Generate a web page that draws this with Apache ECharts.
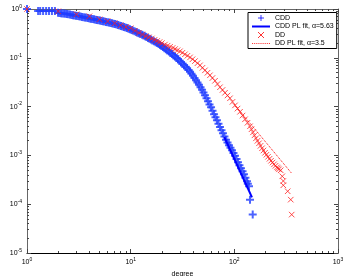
<!DOCTYPE html>
<html><head><meta charset="utf-8">
<script src="https://cdn.jsdelivr.net/npm/echarts@6/dist/echarts.min.js"></script>
<style>html,body{margin:0;padding:0;background:#fff}#c{width:346px;height:276px}</style>
</head><body><div id="c"></div>
<script>
// CDD (blue +) : degree / P(X>degree)
const cddDegree = [1, 1.28, 1.34, 1.43, 1.53, 1.63, 1.74, 1.86,
  1.99, 2.06, 2.13, 2.20, 2.28, 2.35, 2.43, 2.51, 2.60, 2.69, 2.78, 2.87, 2.97, 3.07, 3.18, 3.28, 3.39, 3.51,
  3.63, 3.75, 3.88, 4.01, 4.14, 4.28, 4.43, 4.58, 4.73, 4.89, 5.06, 5.23, 5.41, 5.59, 5.78, 5.98, 6.18, 6.39,
  6.61, 6.83, 7.06, 7.30, 7.55, 7.80, 8.07, 8.34, 8.62, 8.91, 9.22, 9.53, 9.85, 10.2, 10.5, 10.9, 11.3, 11.6,
  12.0, 12.4, 12.9, 13.3, 13.8, 14.2, 14.7, 15.2, 15.7, 16.2, 16.8, 17.4, 18.0, 18.6, 19.2, 19.8, 20.5, 21.2,
  21.9, 22.6, 23.4, 24.2, 25.1, 25.9, 26.8, 27.7, 28.6, 29.6, 30.6, 31.6, 32.7, 33.8, 35.0, 36.2, 37.4, 38.6,
  39.9, 41.3, 42.7, 44.1, 45.6, 47.2, 48.8, 50.4, 52.1, 53.9, 55.7, 57.6, 59.6, 61.6, 63.7, 65.8, 68.0, 70.3,
  72.7, 75.2, 77.7, 80.3, 83.1, 85.9, 88.8, 91.8, 94.9, 98.1, 101.5, 105, 108.5, 112, 115.9, 120, 123.9, 128,
  132.5, 135, 138.5, 141.6, 150.4];
const cddProb = [1, 0.91, 0.905, 0.915, 0.91, 0.905, 0.91, 0.905,
  0.836, 0.826, 0.816, 0.810, 0.805, 0.795, 0.786, 0.777, 0.768, 0.755, 0.743, 0.734, 0.726, 0.717, 0.709, 0.699, 0.689, 0.679,
  0.669, 0.660, 0.651, 0.642, 0.633, 0.624, 0.615, 0.605, 0.595, 0.586, 0.578, 0.569, 0.560, 0.552, 0.544, 0.535, 0.526, 0.517,
  0.509, 0.499, 0.490, 0.480, 0.470, 0.459, 0.448, 0.438, 0.428, 0.417, 0.406, 0.395, 0.384, 0.372, 0.361, 0.350, 0.339, 0.328,
  0.318, 0.307, 0.296, 0.286, 0.276, 0.266, 0.256, 0.246, 0.236, 0.227, 0.218, 0.209, 0.200, 0.191, 0.182, 0.174, 0.166, 0.157,
  0.149, 0.141, 0.134, 0.126, 0.119, 0.112, 0.106, 0.0994, 0.0932, 0.0868, 0.0809, 0.0754, 0.0702, 0.0654, 0.0609, 0.0561, 0.0516, 0.0470,
  0.0428, 0.0385, 0.0346, 0.0311, 0.0280, 0.0249, 0.0221, 0.0194, 0.0170, 0.0148, 0.0128, 0.0111, 0.00968, 0.00823, 0.00699, 0.00605, 0.00524, 0.00447,
  0.00382, 0.00329, 0.00284, 0.00244, 0.00209, 0.00183, 0.00161, 0.00143, 0.00127, 0.00112, 0.000981, 0.000842, 0.000722, 0.000627, 0.000544, 0.000472, 0.000410, 0.000348,
  0.000295, 0.000262, 0.000233, 0.000124, 0.0000612];
// DD (red x)
const ddDegree = [1, 2, 3, 4, 5, 6, 7, 8, 9, 10, 11, 12, 13, 14, 15, 16, 17, 18, 19, 20,
  21.4, 22.7, 24.0, 25.4, 26.8, 28.3, 29.9, 31.6, 33.4, 35.3, 37.4, 39.5, 41.7, 44.1, 46.7, 49.3, 52.1, 55.1,
  58.2, 61.5, 65.1, 68.8, 72.7, 76.9, 81.3, 85.9, 90.8, 96.0, 101.5, 107.3, 113.4, 119.9, 126.7, 134,
  141.6, 146.4, 151.4, 156.5, 161.8, 167.3, 173, 179, 185, 191, 197.7, 204, 211.3, 218.5, 225.9, 233.5,
  241.5, 249.5, 258, 263.7, 269.6, 280, 290, 296.7, 296.7, 327, 350, 357.5];
const ddProb = [1, 0.897, 0.779, 0.709, 0.615, 0.560, 0.509, 0.463, 0.428, 0.402, 0.358, 0.325, 0.300, 0.278, 0.263, 0.249, 0.233, 0.221, 0.210, 0.200,
  0.1865, 0.177, 0.168, 0.159, 0.151, 0.143, 0.136, 0.127, 0.118, 0.110, 0.102, 0.0934, 0.0856, 0.0775, 0.0702, 0.0624, 0.0554, 0.0493,
  0.0438, 0.0385, 0.0338, 0.0290, 0.0249, 0.0219, 0.0192, 0.0169, 0.0148, 0.0125, 0.0106, 0.00910, 0.00782, 0.00655, 0.00549, 0.00466,
  0.00395, 0.00343, 0.00297, 0.00258, 0.00224, 0.00199, 0.00177, 0.00157, 0.00140, 0.00126, 0.00113, 0.00103, 0.000936, 0.000852, 0.000775, 0.000714,
  0.000657, 0.000612, 0.000570, 0.000544, 0.000519, 0.000495, 0.000373, 0.000299, 0.000244, 0.000184, 0.000124, 0.0000612];
// power-law fits (end points)
const cddFitDegree = [80, 148];
const cddFitProb = [0.00238, 0.000138];
const ddFitDegree = [100, 357];
const ddFitProb = [0.0111, 0.00043];
// ticks
const xMajor = [1, 10, 100, 1000];
const xMinor = [2,3,4,5,6,7,8,9,20,30,40,50,60,70,80,90,200,300,400,500,600,700,800,900];
const yMajor = [1e-5, 1e-4, 1e-3, 1e-2, 1e-1, 1];
const yMinor = [2e-5,3e-5,4e-5,5e-5,6e-5,7e-5,8e-5,9e-5,2e-4,3e-4,4e-4,5e-4,6e-4,7e-4,8e-4,9e-4,2e-3,3e-3,4e-3,5e-3,6e-3,7e-3,8e-3,9e-3,0.02,0.03,0.04,0.05,0.06,0.07,0.08,0.09,0.2,0.3,0.4,0.5,0.6,0.7,0.8,0.9];

const FONT = "'Liberation Sans', Arial, sans-serif";
const zip = (a, b) => a.map((v, i) => [v, b[i]]);
const rich = {
  b: {fontSize: 7, fontFamily: FONT, color: '#000'},
  s: {fontSize: 5, fontFamily: FONT, color: '#000', verticalAlign: 'bottom', padding: [0, 0, 5, 0]}
};
const supFmt = v => '{b|10}{s|' + Math.round(Math.log10(v)) + '}';

function axis(dim, pos, major, withLine, withLabel, ticks, len) {
  const a = {
    type: 'log', logBase: 10, position: pos,
    min: dim === 'x' ? 1 : 1e-5, max: dim === 'x' ? 1000 : 1,
    splitLine: {show: false},
    axisLine: {show: withLine, onZero: false, lineStyle: {color: pos === 'bottom' ? '#000' : '#666', width: 1}},
    axisTick: {show: true, inside: true, length: len, customValues: ticks, lineStyle: {color: '#444', width: 1}},
    axisLabel: {show: withLabel}
  };
  if (withLabel) {
    a.axisLabel = {show: true, customValues: major, formatter: supFmt, rich: rich, margin: dim === 'x' ? 4 : 5};
  }
  return a;
}

const xAxes = [
  axis('x', 'bottom', xMajor, true, true, xMajor, 4),
  axis('x', 'bottom', xMajor, false, false, xMinor, 2),
  axis('x', 'top', xMajor, true, false, xMajor, 4),
  axis('x', 'top', xMajor, false, false, xMinor, 2)
];
xAxes[0].name = 'degree';
xAxes[0].nameLocation = 'middle';
xAxes[0].nameGap = 7;
xAxes[0].nameTextStyle = {fontSize: 7, fontFamily: FONT, color: '#000'};
const yAxes = [
  axis('y', 'left', yMajor, true, true, yMajor, 4),
  axis('y', 'left', yMajor, false, false, yMinor, 2),
  axis('y', 'right', yMajor, true, false, yMajor, 4),
  axis('y', 'right', yMajor, false, false, yMinor, 2)
];
yAxes[0].axisLine.lineStyle.color = '#666';
yAxes[0].name = 'P(X>degree)';
yAxes[0].nameLocation = 'middle';
yAxes[0].nameGap = 19;
yAxes[0].nameTextStyle = {fontSize: 7, fontFamily: FONT, color: '#000'};

const PLUS = 'path://M0,5L10,5M5,0L5,10';
const CROSS = 'path://M0,0L10,10M10,0L0,10';
const DOTS = 'path://M0,0h1v1h-1zM2,0h1v1h-1zM4,0h1v1h-1zM6,0h1v1h-1zM8,0h1v1h-1zM10,0h1v1h-1zM12,0h1v1h-1zM14,0h1v1h-1zM16,0h1v1h-1zM18,0h1v1h-1z';
const HIDE = {color: 'none', borderWidth: 0, opacity: 0};

const chart = echarts.init(document.getElementById('c'), null, {renderer: 'canvas'});
chart.setOption({
  animation: false,
  backgroundColor: '#fff',
  grid: {left: 27, right: 8, top: 9, bottom: 23, containLabel: false, outerBoundsMode: 'none'},
  xAxis: xAxes,
  yAxis: yAxes,
  legend: {
    orient: 'vertical', left: 248, top: 12.5,
    padding: [0, 3, 1.5, 3], itemGap: -0.5, itemWidth: 18, itemHeight: 6,
    borderColor: '#000', borderWidth: 1, backgroundColor: '#fff',
    textStyle: {fontSize: 7, fontFamily: FONT, color: '#000', lineHeight: 7},
    data: [
      {name: 'CDD', itemStyle: {color: 'none', borderColor: '#0000ff', borderWidth: 1}},
      {name: 'CDD PL fit, α=5.63', itemStyle: HIDE, lineStyle: {width: 2, color: '#0000ff'}},
      {name: 'DD', itemStyle: {color: 'none', borderColor: '#ff0000', borderWidth: 1}},
      {name: 'DD PL fit, α=3.5', icon: DOTS, itemStyle: {color: '#ff3030', borderWidth: 0, opacity: 1}}
    ]
  },
  series: [
    {name: 'CDD', type: 'scatter', data: zip(cddDegree, cddProb), symbol: PLUS, symbolSize: 8,
     itemStyle: {color: 'none', borderColor: '#1f3cff', borderWidth: 2}, z: 2},
    {name: 'CDD PL fit, α=5.63', type: 'line', data: zip(cddFitDegree, cddFitProb), symbol: 'none',
     itemStyle: {color: '#0000ff'}, lineStyle: {color: '#0000ff', width: 2}, z: 3},
    {name: 'DD', type: 'scatter', data: zip(ddDegree, ddProb), symbol: CROSS, symbolSize: 5.5,
     itemStyle: {color: 'none', borderColor: '#ff2020', borderWidth: 1}, z: 4},
    {name: 'DD PL fit, α=3.5', type: 'line', data: zip(ddFitDegree, ddFitProb), symbol: 'none',
     itemStyle: {color: '#ff0000'}, lineStyle: {color: '#ff0000', width: 1, type: 'dotted'}, z: 5}
  ]
});
</script></body></html>
